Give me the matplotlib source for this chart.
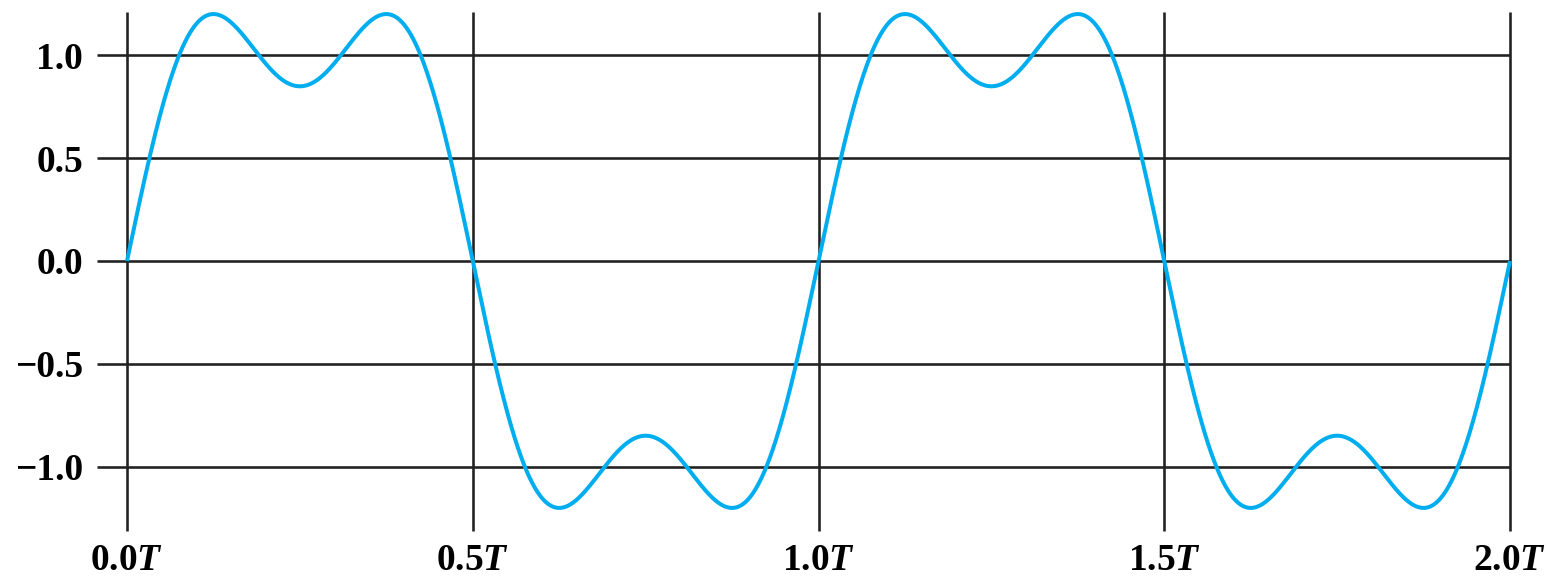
import numpy as np
import matplotlib
matplotlib.use("Agg")
import matplotlib.pyplot as plt
from matplotlib.transforms import blended_transform_factory

plt.rcParams["font.family"] = ["Liberation Serif", "DejaVu Serif"]
plt.rcParams["font.weight"] = "bold"
plt.rcParams["mathtext.fontset"] = "custom"
plt.rcParams["mathtext.rm"] = "Liberation Serif:bold"
plt.rcParams["mathtext.bf"] = "Liberation Serif:bold"
plt.rcParams["mathtext.it"] = "Liberation Serif:bold:italic"

# Square-wave partial sum: odd harmonics and their amplitudes
harmonics = [1, 3]
amplitudes = [1.273, 0.424]

x_ticks = [0.0, 0.5, 1.0, 1.5, 2.0]
x_tick_labels = [r"0.0$\mathit{T}$", r"0.5$\mathit{T}$", r"1.0$\mathit{T}$",
                 r"1.5$\mathit{T}$", r"2.0$\mathit{T}$"]
y_ticks = [-1.0, -0.5, 0.0, 0.5, 1.0]
y_tick_labels = ["\u22121.0", "\u22120.5", "0.0", "0.5", "1.0"]

W, H, DPI = 1551, 577, 100
ax_l, ax_r, ax_t, ax_b = 127, 1510, 12, 510
fig = plt.figure(figsize=(W / DPI, H / DPI), dpi=DPI)
ax = fig.add_axes([ax_l / W, 1 - ax_b / H, (ax_r - ax_l) / W, (ax_b - ax_t) / H])

t = np.linspace(0, 2, 2000)
y = np.zeros_like(t)
for k, a in zip(harmonics, amplitudes):
    y += a * np.sin(2 * np.pi * k * t)

px = 72 / DPI
grid_color = "#222222"
grid_lw = 2.6 * px

# Grid lines that run past the plotting area like long tick marks
left_ext = -30 / (ax_r - ax_l)
bottom_ext = -21 / (ax_b - ax_t)
htrans = blended_transform_factory(ax.transAxes, ax.transData)
vtrans = blended_transform_factory(ax.transData, ax.transAxes)
for yv in y_ticks:
    ax.plot([left_ext, 1], [yv, yv], transform=htrans, color=grid_color,
            lw=grid_lw, clip_on=False, zorder=1, solid_capstyle="butt")
for xv in x_ticks:
    ax.plot([xv, xv], [bottom_ext, 1], transform=vtrans, color=grid_color,
            lw=grid_lw, clip_on=False, zorder=1, solid_capstyle="butt")

ax.plot(t, y, color="#00aeef", lw=4 * px, zorder=3, solid_capstyle="butt",
        clip_on=False)

ax.set_xlim(0, 2)
ax.set_ylim(-1.21, 1.21)
for s in ax.spines.values():
    s.set_visible(False)

ax.set_xticks(x_ticks)
ax.set_xticklabels(x_tick_labels)
ax.set_yticks(y_ticks)
ax.set_yticklabels(y_tick_labels)
ax.tick_params(axis="y", length=0, pad=44 * px, labelsize=27)
ax.tick_params(axis="x", length=0, pad=33 * px, labelsize=27)
for lab in ax.get_xticklabels() + ax.get_yticklabels():
    lab.set_fontweight("bold")

fig.savefig("out.png", dpi=DPI, facecolor="white")
